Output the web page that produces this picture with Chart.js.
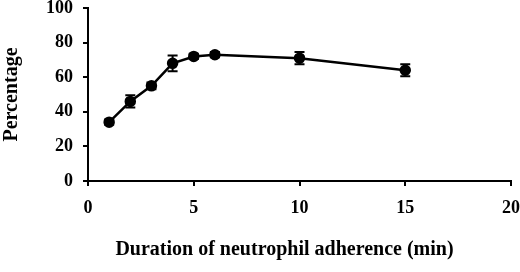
<!DOCTYPE html>
<html>
<head>
<meta charset="utf-8">
<script src="https://cdn.jsdelivr.net/npm/chart.js@4"></script>
<style>
  body { margin: 0; background: #fff; }
  canvas { display: block; }
</style>
</head>
<body>
<canvas id="chart" width="520" height="272"></canvas>
<script>
// data
const minutes = [1, 2, 3, 4, 5, 6, 10, 15];
const percentage = [34, 46, 55, 68, 72, 73, 71, 64];
const errors = [1.5, 3.5, 2, 4.5, 1.5, 1.5, 3.5, 3.5];
const xTicks = [0, 5, 10, 15, 20];
const yTicks = [0, 20, 40, 60, 80, 100];

const font = 'Liberation Serif';

// error bars drawn through the scales
const errorBars = {
    id: 'errorBars',
    afterDatasetsDraw(chart) {
        const { ctx, scales: { x, y } } = chart;
        ctx.save();
        ctx.strokeStyle = '#000';
        ctx.lineWidth = 2;
        minutes.forEach((m, i) => {
            const px = x.getPixelForValue(m);
            const top = y.getPixelForValue(percentage[i] + errors[i]);
            const bot = y.getPixelForValue(percentage[i] - errors[i]);
            ctx.beginPath();
            ctx.moveTo(px, top); ctx.lineTo(px, bot);
            ctx.moveTo(px - 5, top); ctx.lineTo(px + 5, top);
            ctx.moveTo(px - 5, bot); ctx.lineTo(px + 5, bot);
            ctx.stroke();
        });
        ctx.restore();
    }
};

// no extra room for edge labels, like the original figure
function noEdgePadding(s) {
    s.paddingLeft = 0; s.paddingRight = 0;
    s.paddingTop = 0; s.paddingBottom = 0;
}

new Chart(document.getElementById('chart'), {
    type: 'line',
    data: {
        datasets: [{
            data: minutes.map((m, i) => ({ x: m, y: percentage[i] })),
            borderColor: '#000',
            backgroundColor: '#000',
            borderWidth: 2.5,
            pointRadius: 4.5,
            tension: 0,
        }],
    },
    options: {
        responsive: false,
        animation: false,
        layout: { padding: { left: 0, right: 9, top: 8, bottom: 0 } },
        plugins: {
            legend: { display: false },
            tooltip: { enabled: false },
        },
        scales: {
            x: {
                type: 'linear',
                min: 0, max: 20,
                afterBuildTicks: (s) => { s.ticks = xTicks.map(v => ({ value: v })); },
                afterFit: (s) => { s.height = 91; noEdgePadding(s); },
                grid: { drawOnChartArea: false, drawTicks: true, tickLength: 5, color: '#000', lineWidth: 2 },
                border: { display: true, color: '#000', width: 2 },
                ticks: { color: '#000', padding: 12, maxRotation: 0, font: { family: font, size: 18, weight: 'bold' } },
                title: {
                    display: true,
                    text: 'Duration of neutrophil adherence (min)\u00a0\u00a0\u00a0\u00a0\u00a0\u00a0',
                    color: '#000',
                    padding: { top: 0, bottom: 10 },
                    font: { family: font, size: 20, weight: 'bold' },
                },
            },
            y: {
                min: 0, max: 100,
                afterBuildTicks: (s) => { s.ticks = yTicks.map(v => ({ value: v })); },
                afterFit: (s) => { s.width = 88; noEdgePadding(s); },
                grid: { drawOnChartArea: false, drawTicks: true, tickLength: 5, color: '#000', lineWidth: 2 },
                border: { display: true, color: '#000', width: 2 },
                ticks: { color: '#000', padding: 10, font: { family: font, size: 18, weight: 'bold' } },
                title: {
                    display: true,
                    text: 'Percentage',
                    color: '#000',
                    padding: 0,
                    font: { family: font, size: 20, weight: 'bold' },
                },
            },
        },
    },
    plugins: [errorBars],
});
</script>
</body>
</html>
